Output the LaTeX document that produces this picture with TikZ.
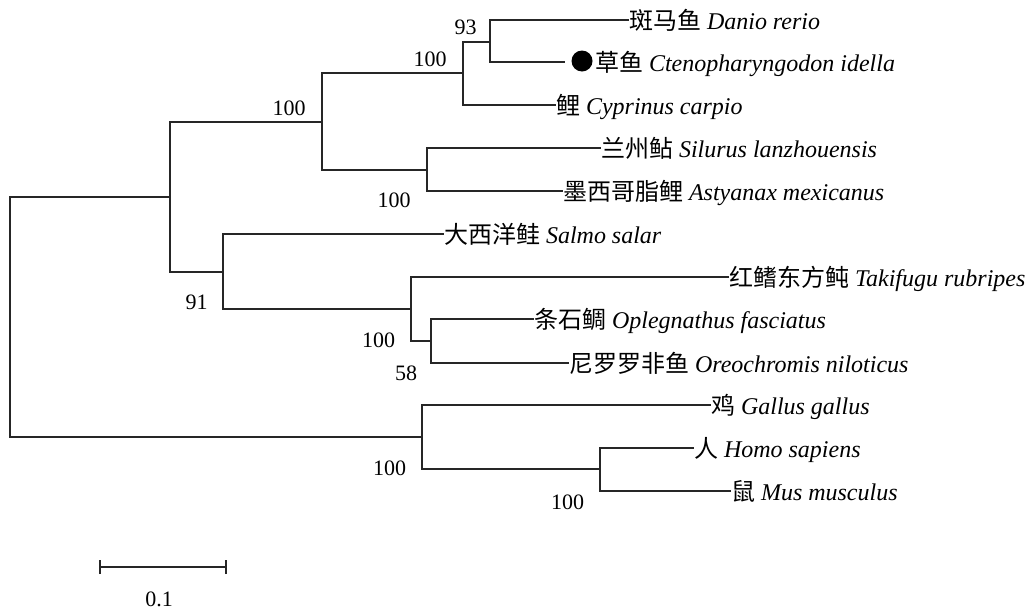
\documentclass[tikz,border=0pt]{standalone}
\usepackage{fontspec}
\setmainfont{Liberation Serif}
\newfontfamily\cjk{Noto Sans CJK SC}
\begin{document}
\begin{tikzpicture}[x=1pt,y=-1pt,
  br/.style={line width=1.1pt, draw=black!85},
  leaf/.style={anchor=west, inner sep=0pt, outer sep=0pt, xshift=1pt,
    font=\fontsize{24}{28}\selectfont, text height=20pt, text depth=2pt},
  boot/.style={inner sep=0pt, font=\fontsize{22}{26}\selectfont}]
\useasboundingbox (0,0) rectangle (1030,611);
% internal nodes
\coordinate (root) at (10,317);
\coordinate (A) at (170,197);
\coordinate (B) at (322,122);
\coordinate (C) at (463,73);
\coordinate (D) at (490,42);
\coordinate (E) at (427,170);
\coordinate (F) at (223,272);
\coordinate (G) at (411,309);
\coordinate (H) at (431,341);
\coordinate (I) at (422,437);
\coordinate (J) at (600,469);
% leaves
\node[leaf] (danio) at (628,20) {{\cjk 斑马鱼} \textit{Danio rerio}};
\coordinate (grassend) at (565,62);
\node[circle, fill=black, inner sep=0pt, minimum size=21pt] (mark) at (582,61) {};
\node[leaf] (grass) at (594,62) {{\cjk 草鱼} \textit{Ctenopharyngodon idella}};
\node[leaf] (carp) at (555,105) {{\cjk 鲤} \textit{Cyprinus carpio}};
\node[leaf] (silurus) at (600,148) {{\cjk 兰州鲇} \textit{Silurus lanzhouensis}};
\node[leaf] (astyanax) at (562,191) {{\cjk 墨西哥脂鲤} \textit{Astyanax mexicanus}};
\node[leaf] (salmo) at (443,234) {{\cjk 大西洋鲑} \textit{Salmo salar}};
\node[leaf] (takifugu) at (728,277) {{\cjk 红鳍东方鲀} \textit{Takifugu rubripes}};
\node[leaf] (oplegnathus) at (533,319) {{\cjk 条石鲷} \textit{Oplegnathus fasciatus}};
\node[leaf] (oreochromis) at (568,363) {{\cjk 尼罗罗非鱼} \textit{Oreochromis niloticus}};
\node[leaf] (gallus) at (710,405) {{\cjk 鸡} \textit{Gallus gallus}};
\node[leaf] (homo) at (693,448) {{\cjk 人} \textit{Homo sapiens}};
\node[leaf] (mus) at (730,491) {{\cjk 鼠} \textit{Mus musculus}};
% branches
\draw[br] (root) |- (A);
\draw[br] (root) |- (I);
\draw[br] (A) |- (B);
\draw[br] (A) |- (F);
\draw[br] (B) |- (C);
\draw[br] (B) |- (E);
\draw[br] (C) |- (D);
\draw[br] (C) |- (carp);
\draw[br] (D) |- (danio);
\draw[br] (D) |- (grassend);
\draw[br] (E) |- (silurus);
\draw[br] (E) |- (astyanax);
\draw[br] (F) |- (salmo);
\draw[br] (F) |- (G);
\draw[br] (G) |- (takifugu);
\draw[br] (G) |- (H);
\draw[br] (H) |- (oplegnathus);
\draw[br] (H) |- (oreochromis);
\draw[br] (I) |- (gallus);
\draw[br] (I) |- (J);
\draw[br] (J) |- (homo);
\draw[br] (J) |- (mus);
% bootstrap values
\node[boot] (b93) at (465.5,27.5) {93};
\node[boot] (bC) at (430,59.5) {100};
\node[boot] (bB) at (289,108) {100};
\node[boot] (bE) at (394,200.5) {100};
\node[boot] (b91) at (196.5,302) {91};
\node[boot] (bG) at (378.5,340.5) {100};
\node[boot] (b58) at (406,373) {58};
\node[boot] (bI) at (389.5,468) {100};
\node[boot] (bJ) at (567.5,502.5) {100};
% scale bar
\coordinate (s1) at (100,567);
\coordinate (s2) at (226,567);
\draw[br] (s1) -- (s2);
\draw[br] ([yshift=-7pt]s1) -- ([yshift=7pt]s1);
\draw[br] ([yshift=-7pt]s2) -- ([yshift=7pt]s2);
\node[boot] (scale) at (159,599) {0.1};
\end{tikzpicture}
\end{document}
